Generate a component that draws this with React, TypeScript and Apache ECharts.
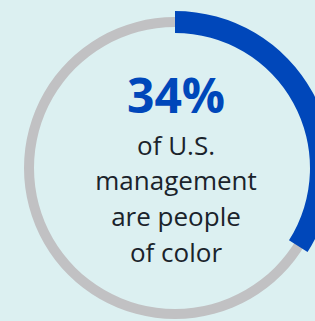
import React, { useEffect, useRef } from "react";
import * as echarts from "echarts";

const shareLabel = "34%";
const shareValue = [34];
const restValue = [66];
const captionLines = ["of U.S.", "management", "are people", "of color"];

export default function App() {
  const ref = useRef<HTMLDivElement>(null);
  useEffect(() => {
    if (!ref.current) return;
    const chart = echarts.init(ref.current, null, { renderer: "svg" });
    const cx = 175;
    const cy = 168;
    chart.setOption({
      animation: false,
      backgroundColor: "#dcf0f1",
      series: [
        {
          type: "pie",
          center: [cx, cy],
          radius: [141, 151],
          silent: true,
          label: { show: false },
          labelLine: { show: false },
          itemStyle: { color: "#c1c1c3" },
          data: [{ value: 100, name: "track" }],
        },
        {
          type: "pie",
          center: [cx, cy],
          radius: [135, 157],
          startAngle: 90,
          clockwise: true,
          silent: true,
          label: { show: false },
          labelLine: { show: false },
          data: [
            { value: shareValue[0], name: "people of color", itemStyle: { color: "#0047ba" } },
            { value: restValue[0], name: "other", itemStyle: { color: "rgba(0,0,0,0)" } },
          ],
        },
      ],
      graphic: [
        {
          type: "text",
          x: cx + 1,
          y: 118,
          style: {
            text: shareLabel,
            fill: "#0047ba",
            font: "bold 48px 'Open Sans', sans-serif",
            textAlign: "center",
            textVerticalAlign: "bottom",
          },
        },
        ...captionLines.map((t, i) => ({
          type: "text",
          x: cx + 1,
          y: 157.5 + i * 35.7,
          style: {
            text: t,
            fill: "#1a232b",
            font: "26px 'Open Sans', sans-serif",
            textAlign: "center",
            textVerticalAlign: "bottom",
          },
        })),
      ],
    });
    return () => chart.dispose();
  }, []);
  return (
    <div
      ref={ref}
      style={{ position: "fixed", left: 0, top: 0, width: 315, height: 321 }}
    />
  );
}
